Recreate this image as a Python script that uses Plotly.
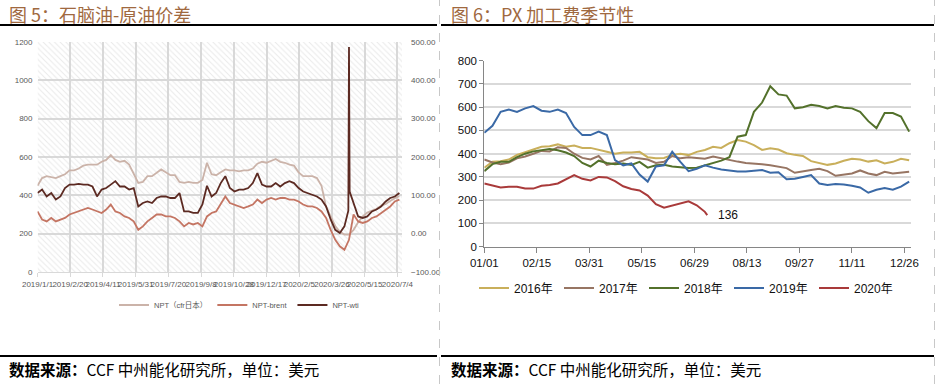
import pandas as pd
import plotly.graph_objects as go

W, H = 936, 384

# ---------------- Left chart (图5) data: weekly points from 2019-01-01 ----------------
left_start = "2019-01-01"
npt_cfr = [450, 490, 500, 495, 490, 500, 510, 530, 530, 540,
           555, 560, 560, 560, 575, 585, 610, 585, 575, 580,
           560, 510, 465, 470, 500, 500, 520, 535, 520, 505,
           505, 470, 465, 470, 465, 465, 480, 570, 510, 505,
           520, 535, 530, 530, 525, 530, 530, 540, 565, 575,
           570, 580, 590, 575, 570, 560, 555, 520, 500, 500,
           500, 490, 450, 340, 290, 240, 210, 195, 195, 220,
           260, 290, 310, 320, 330, 345, 355, 370, 385, 395]
npt_brent = [58, 37, 32, 41, 32, 37, 41, 50, 54, 58,
             63, 67, 63, 58, 54, 63, 76, 58, 54, 45,
             41, 32, 10, 19, 32, 41, 50, 50, 45, 45,
             41, 32, 19, 28, 24, 28, 19, 45, 54, 58,
             76, 97, 80, 76, 71, 67, 71, 76, 89, 80,
             89, 93, 89, 93, 93, 89, 89, 84, 76, 71,
             71, 67, 58, 41, 10, -16, -33, -42, -16, 50,
             32, 28, 32, 41, 45, 54, 63, 71, 84, 89]
npt_wti = [106, 115, 97, 106, 89, 97, 119, 128, 128, 130,
           128, 128, 123, 97, 115, 119, 128, 137, 123, 123,
           115, 119, 71, 80, 84, 80, 93, 97, 97, 93,
           93, 106, 58, 58, 54, 54, 76, 125, 97, 106,
           132, 150, 119, 110, 115, 115, 119, 132, 158, 128,
           123, 123, 132, 123, 132, 137, 132, 119, 110, 106,
           102, 97, 89, 71, 37, 10, 2, 19, 487, 80,
           45, 41, 45, 58, 63, 71, 84, 93, 97, 106]
# extra daily points around the negative-WTI spike
wti_extra_dates = ["2020-04-20", "2020-04-22"]
wti_extra_vals = [60, 110]

left_tick_labels = ["2019/1/1", "2019/2/20", "2019/4/11", "2019/5/31", "2019/7/20",
                    "2019/9/8", "2019/10/28", "2019/12/17", "2020/2/5", "2020/3/26",
                    "2020/5/15", "2020/7/4"]
left_range = ["2019-01-01", "2020-07-11"]
left_y_range = [0, 1200]
left_y2_range = [-100, 500]

# ---------------- Right chart (图6) data: weekly points, day-of-year ----------------
y2016 = [340, 365, 368, 375, 395, 405, 418, 430, 432, 440,
         430, 435, 425, 425, 418, 408, 400, 405, 405, 408,
         385, 380, 382, 395, 400, 394, 408, 416, 430, 425,
         445, 459, 452, 437, 416, 423, 418, 402, 395, 390,
         368, 360, 352, 358, 370, 378, 375, 366, 372, 358,
         365, 378, 372]
y2017 = [375, 362, 355, 362, 380, 388, 400, 412, 410, 428,
         425, 400, 382, 375, 390, 352, 360, 370, 385, 380,
         375, 360, 365, 390, 380, 385, 380, 378, 388, 380,
         373, 366, 360, 358, 355, 350, 344, 338, 318, 325,
         330, 335, 325, 305, 310, 315, 328, 315, 308, 322,
         315, 318, 322]
y2018 = [325, 355, 365, 365, 385, 400, 410, 415, 420, 415,
         405, 390, 360, 345, 370, 360, 355, 358, 352, 365,
         340, 350, 352, 345, 342, 338, 340, 350, 358, 370,
         385, 473, 480, 580, 620, 690, 655, 650, 595, 600,
         610, 605, 595, 605, 598, 595, 580, 540, 510, 575,
         575, 560, 495]
y2019 = [490, 520, 580, 590, 580, 595, 605, 585, 580, 590,
         575, 515, 480, 480, 495, 480, 372, 350, 358, 310,
         280, 345, 350, 408, 365, 325, 335, 350, 340, 332,
         328, 323, 323, 328, 330, 318, 320, 290, 292, 300,
         308, 272, 265, 270, 268, 262, 255, 232, 245, 252,
         245, 258, 280]
y2020 = [272, 265, 255, 258, 258, 250, 250, 262, 265, 272,
         290, 308, 292, 285, 300, 298, 282, 260, 248, 242,
         220, 183, 168, 178, 185, 195, 178, 150]
y2020_last_date = "2020-07-10"
y2020_last_val = 136

right_tick_labels = ["01/01", "02/15", "03/31", "05/15", "06/29",
                     "08/13", "09/27", "11/11", "12/26"]
right_base_year = "2020"
right_range = ["2020-01-01", "2020-12-31 14:00"]
right_y_range = [0, 800]

years = ["2016年", "2017年", "2018年", "2019年", "2020年"]
year_colors = ["#C9AF5B", "#977563", "#53712B", "#3A69A6", "#A93A3A"]
left_names = ["NPT（cfr日本）", "NPT-brent", "NPT-wti"]
left_colors = ["#CBB3A9", "#C47563", "#5C2A22"]

# ---------------- build ----------------
def weekly(start, n):
    return list(pd.date_range(start, periods=n, freq="7D"))

lx = weekly(left_start, len(npt_cfr))
wti_df = pd.DataFrame({"d": lx + list(pd.to_datetime(wti_extra_dates)),
                       "v": npt_wti + wti_extra_vals}).sort_values("d")

fig = go.Figure()

# hatched plot background of left chart
hx0, hx1 = left_range
fig.add_trace(go.Scatter(
    x=[hx0, hx1, hx1, hx0, hx0],
    y=[left_y_range[0], left_y_range[0], left_y_range[1], left_y_range[1], left_y_range[0]],
    mode="lines", line=dict(width=0), fill="toself", fillcolor="rgba(0,0,0,0)",
    fillpattern=dict(shape="\\", fgcolor="#d4d4d4", bgcolor="rgba(0,0,0,0)",
                     size=4, solidity=0.25),
    hoverinfo="skip", showlegend=False, xaxis="x", yaxis="y"))

fig.add_trace(go.Scatter(x=lx, y=npt_cfr, name=left_names[0], mode="lines",
                         line=dict(color=left_colors[0], width=1.8),
                         xaxis="x", yaxis="y", legend="legend"))
fig.add_trace(go.Scatter(x=lx, y=npt_brent, name=left_names[1], mode="lines",
                         line=dict(color=left_colors[1], width=1.8),
                         xaxis="x", yaxis="y2", legend="legend"))
fig.add_trace(go.Scatter(x=wti_df["d"], y=wti_df["v"], name=left_names[2], mode="lines",
                         line=dict(color=left_colors[2], width=1.8),
                         xaxis="x", yaxis="y2", legend="legend"))

rstart = right_base_year + "-01-01"
series = [y2016, y2017, y2018, y2019, y2020]
for name, col, vals in zip(years, year_colors, series):
    xs = weekly(rstart, len(vals))
    ys = list(vals)
    if name == "2020年":
        xs = xs + [pd.Timestamp(y2020_last_date)]
        ys = ys + [y2020_last_val]
    fig.add_trace(go.Scatter(x=xs, y=ys, name=name, mode="lines",
                             line=dict(color=col, width=2),
                             xaxis="x2", yaxis="y3", legend="legend2"))

def px_x(p):
    return p / W

def px_y(p):
    return 1 - p / H

grey = "#595959"
small_font = dict(family="Liberation Sans, Noto Sans CJK SC", size=8, color=grey)
right_font = dict(family="Liberation Sans, Noto Sans CJK SC", size=11.5, color="#111111")

fig.update_layout(
    width=W, height=H, autosize=False,
    margin=dict(l=0, r=0, t=0, b=0, autoexpand=False),
    paper_bgcolor="white", plot_bgcolor="white",
    hovermode=False,
    xaxis=dict(domain=[px_x(37.5), px_x(402)], anchor="y", type="date",
               range=left_range,
               tickvals=list(pd.to_datetime(left_tick_labels, format="%Y/%m/%d")),
               ticktext=left_tick_labels, tickangle=0,
               showgrid=True, gridcolor="#d9d9d9", gridwidth=1.6,
               showline=True, linecolor="#d9d9d9", linewidth=1,
               ticks="outside", ticklen=4, tickcolor="#d9d9d9",
               tickfont=small_font, zeroline=False, automargin=False),
    yaxis=dict(domain=[px_y(272), px_y(42)], anchor="x", range=left_y_range, dtick=200,
               showgrid=True, gridcolor="#d9d9d9", gridwidth=1.6, zeroline=False,
               tickfont=small_font, ticklabelstandoff=4, automargin=False),
    yaxis2=dict(overlaying="y", side="right", anchor="x", range=left_y2_range, dtick=100,
                tickformat=".2f", showgrid=False, zeroline=False,
                tickfont=small_font, ticklabelstandoff=8, automargin=False),
    xaxis2=dict(domain=[px_x(484.3), px_x(911)], anchor="y3", type="date",
                range=right_range,
                tickvals=[pd.Timestamp(right_base_year + "-" + t.replace("/", "-")) for t in right_tick_labels],
                ticktext=right_tick_labels, tickangle=0,
                showgrid=False, showline=True, linecolor="#868686", linewidth=1,
                ticks="outside", ticklen=5, tickcolor="#868686",
                tickfont=right_font, zeroline=False, automargin=False),
    yaxis3=dict(domain=[px_y(246.7), px_y(60.7)], anchor="x2", range=right_y_range, dtick=100,
                showgrid=True, gridcolor="#d9d9d9", gridwidth=1.6, zeroline=False,
                showline=True, linecolor="#868686", linewidth=1,
                ticks="outside", ticklen=4, tickcolor="#868686",
                tickfont=right_font, automargin=False),
    legend=dict(orientation="h", x=px_x(114), xanchor="left", y=px_y(305), yanchor="middle",
                font=dict(family="Liberation Sans, Noto Sans CJK SC", size=7.5, color=grey),
                bgcolor="rgba(0,0,0,0)", itemwidth=30),
    legend2=dict(orientation="h", x=px_x(474), xanchor="left", y=px_y(288), yanchor="middle",
                 font=dict(family="Liberation Sans, Noto Sans CJK SC", size=12, color="#111111"),
                 bgcolor="rgba(0,0,0,0)", itemwidth=30,
                 entrywidth=40, entrywidthmode="pixels"),
)

title_font = dict(family="Noto Sans CJK SC", size=18, color="#A0693F")
foot_font = dict(family="Noto Sans CJK SC", size=15.5, color="#000000")
annos = [
    dict(text="图 5：石脑油-原油价差", x=px_x(7), y=px_y(13.5)),
    dict(text="图 6：PX 加工费季节性", x=px_x(449), y=px_y(13.5)),
]
for a in annos:
    fig.add_annotation(xref="paper", yref="paper", xanchor="left", yanchor="middle",
                       showarrow=False, font=title_font, **a)
for fx in [7, 449]:
    fig.add_annotation(xref="paper", yref="paper", xanchor="left", yanchor="middle",
                       x=px_x(fx), y=px_y(369), showarrow=False, font=foot_font,
                       text="<b>数据来源：</b>CCF 中州能化研究所，单位：美元")

# end label for 2020
fig.add_annotation(x=pd.Timestamp(y2020_last_date), y=y2020_last_val, xref="x2", yref="y3",
                   text=str(y2020_last_val), showarrow=False, xanchor="left", yanchor="middle",
                   xshift=9, font=dict(family="Liberation Sans", size=12, color="#111111"))

# frame lines
shapes = []
for (a, b) in [(0, 437), (441, 934)]:
    for yy in [25, 356]:
        shapes.append(dict(type="line", xref="paper", yref="paper",
                           x0=px_x(a), x1=px_x(b), y0=px_y(yy), y1=px_y(yy),
                           line=dict(color="#000000", width=2)))
for xx in [439.5, 934.5]:
    shapes.append(dict(type="line", xref="paper", yref="paper",
                       x0=px_x(xx), x1=px_x(xx), y0=0, y1=1,
                       line=dict(color="#c8c8c8", width=1, dash="dash")))
fig.update_layout(shapes=shapes)

fig.write_html("out.html", config={"displayModeBar": False},
               post_script="document.body.style.margin='0';document.body.style.overflow='hidden';")
